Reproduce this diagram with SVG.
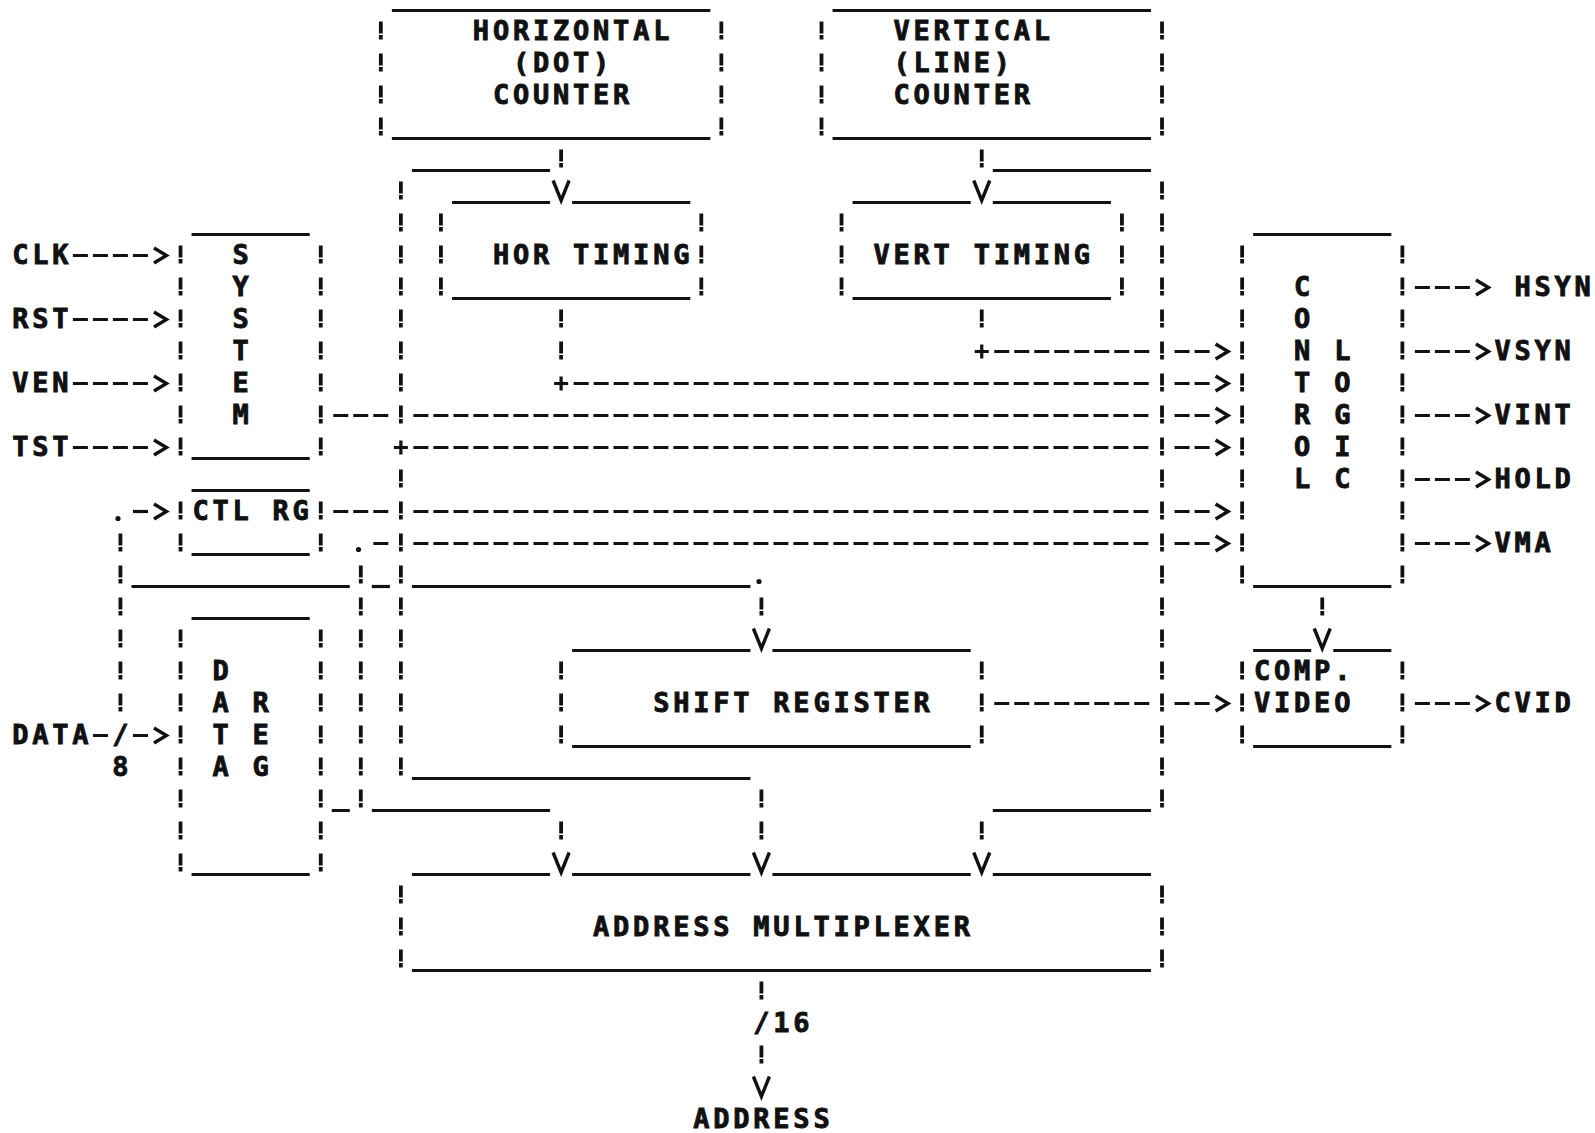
<svg xmlns="http://www.w3.org/2000/svg" width="1595" height="1133" viewBox="0 0 1595 1133">
<style>
.t{font-family:"DejaVu Sans Mono","Liberation Mono",monospace;font-weight:bold;font-size:27px;letter-spacing:3.78px;fill:#111;stroke:#111;stroke-width:0.9px}
.u{stroke:#111;stroke-width:3.2;fill:none}
.v{stroke:#111;stroke-width:3.8;fill:none;stroke-dasharray:12 1.5 4.5 14}
.h{stroke:#111;stroke-width:3.2;fill:none;stroke-dasharray:15 5}
.p{stroke:#111;stroke-width:3.2;fill:none}
.ah{stroke:#111;stroke-width:3.4;fill:none;stroke-linejoin:miter;stroke-dasharray:none}
.dot{fill:#111}
</style>
<defs>
<marker id="gt" markerUnits="userSpaceOnUse" orient="auto" refX="0" refY="0" markerWidth="40" markerHeight="40" overflow="visible"><path class="ah" d="M6,-7.5 L18.5,0 L6,7.5"/></marker>
<marker id="vv" markerUnits="userSpaceOnUse" orient="auto" refX="0" refY="0" markerWidth="40" markerHeight="40" overflow="visible"><path class="ah" d="M13,-8 L33,0 L13,8"/></marker>
</defs>
<rect width="1595" height="1133" fill="#fff"/>

<g id="nodes">
<g id="hcounter">
<path class="u" d="M391.87,10.5H710.32M391.87,138.5H710.32"/>
<path class="v" d="M380.84,21.5V135.5M721.35,21.5V135.5"/>
<text class="t"><tspan x="472.86" y="40.3">HORIZONTAL</tspan><tspan x="512.92" y="72.3">(DOT)</tspan><tspan x="492.89" y="104.3">COUNTER</tspan></text>
</g>
<g id="vcounter">
<path class="u" d="M832.53,10.5H1150.98M832.53,138.5H1150.98"/>
<path class="v" d="M821.5,21.5V135.5M1162.01,21.5V135.5"/>
<text class="t"><tspan x="893.49" y="40.3">VERTICAL</tspan><tspan x="893.49" y="72.3">(LINE)</tspan><tspan x="893.49" y="104.3">COUNTER</tspan></text>
</g>
<g id="htiming">
<path class="u" d="M451.96,202.5H550.08M572.14,202.5H690.29M451.96,298.5H690.29"/>
<path class="v" d="M440.93,213.5V295.5M701.32,213.5V295.5"/>
<text class="t" x="492.89" y="264.3">HOR TIMING</text>
</g>
<g id="vtiming">
<path class="u" d="M852.56,202.5H970.71M992.77,202.5H1110.92M852.56,298.5H1110.92"/>
<path class="v" d="M841.53,213.5V295.5M1121.95,213.5V295.5"/>
<text class="t" x="873.46" y="264.3">VERT TIMING</text>
</g>
<g id="system">
<path class="u" d="M191.57,234.5H309.72M191.57,458.5H309.72"/>
<path class="v" d="M180.54,245.5V455.5M320.75,245.5V455.5"/>
<text class="t"><tspan x="232.5" y="264.3">S</tspan><tspan x="232.5" y="296.3">Y</tspan><tspan x="232.5" y="328.3">S</tspan><tspan x="232.5" y="360.3">T</tspan><tspan x="232.5" y="392.3">E</tspan><tspan x="232.5" y="424.3">M</tspan></text>
</g>
<g id="ctlrg">
<path class="u" d="M191.57,490.5H309.72M191.57,554.5H309.72"/>
<path class="v" d="M180.54,501.5V551.5M320.75,501.5V551.5"/>
<text class="t" x="192.44" y="520.3">CTL RG</text>
</g>
<g id="datareg">
<path class="u" d="M191.57,618.5H309.72M191.57,874.5H309.72"/>
<path class="v" d="M180.54,629.5V871.5M320.75,629.5V871.5"/>
<text class="t"><tspan x="212.47" y="680.3">D</tspan><tspan x="212.47" y="712.3">A R</tspan><tspan x="212.47" y="744.3">T E</tspan><tspan x="212.47" y="776.3">A G</tspan></text>
</g>
<g id="control">
<path class="u" d="M1253.16,234.5H1391.34M1253.16,586.5H1391.34"/>
<path class="v" d="M1242.13,245.5V583.5M1402.37,245.5V583.5"/>
<text class="t"><tspan x="1294.09" y="296.3">C</tspan><tspan x="1294.09" y="328.3">O</tspan><tspan x="1294.09" y="360.3">N L</tspan><tspan x="1294.09" y="392.3">T O</tspan><tspan x="1294.09" y="424.3">R G</tspan><tspan x="1294.09" y="456.3">O I</tspan><tspan x="1294.09" y="488.3">L C</tspan></text>
</g>
<g id="compvideo">
<path class="u" d="M1253.16,650.5H1311.22M1333.28,650.5H1391.34M1253.16,746.5H1391.34"/>
<path class="v" d="M1242.13,661.5V743.5M1402.37,661.5V743.5"/>
<text class="t"><tspan x="1254.03" y="680.3">COMP.</tspan><tspan x="1254.03" y="712.3">VIDEO</tspan></text>
</g>
<g id="shiftreg">
<path class="u" d="M572.14,650.5H750.38M772.44,650.5H970.71M572.14,746.5H970.71"/>
<path class="v" d="M561.11,661.5V743.5M981.74,661.5V743.5"/>
<text class="t" x="653.13" y="712.3">SHIFT REGISTER</text>
</g>
<g id="addrmux">
<path class="u" d="M411.9,874.5H550.08M572.14,874.5H750.38M772.44,874.5H970.71M992.77,874.5H1150.98M411.9,970.5H1150.98"/>
<path class="v" d="M400.87,885.5V967.5M1162.01,885.5V967.5"/>
<text class="t" x="593.04" y="936.3">ADDRESS MULTIPLEXER</text>
</g>
</g>

<g id="connectors">
<g id="c-clk"><path class="h" marker-end="url(#gt)" d="M72.89,255.5H147.98"/></g>
<g id="c-rst"><path class="h" marker-end="url(#gt)" d="M72.89,319.5H147.98"/></g>
<g id="c-ven"><path class="h" marker-end="url(#gt)" d="M72.89,383.5H147.98"/></g>
<g id="c-tst"><path class="h" marker-end="url(#gt)" d="M72.89,447.5H147.98"/></g>
<g id="c-data">
<path class="h" marker-end="url(#gt)" d="M92.92,735.5h15M132.98,735.5H147.98"/>
<path class="v" d="M120.45,533.5V711.5"/>
<circle class="dot" cx="118" cy="518.5" r="2.6"/>
<path class="h" marker-end="url(#gt)" d="M132.98,511.5H147.98"/>
<path class="u" d="M131.48,586.5H349.78"/>
</g>
<g id="c-bus17">
<circle class="dot" cx="358.5" cy="549.5" r="2.6"/>
<path class="h" marker-end="url(#gt)" d="M373.34,543.5H388.34M413.4,543.5H1149.48M1174.54,543.5H1209.57"/>
<path class="v" d="M360.81,565.5V807.5"/>
<path class="u" d="M371.84,586.5H389.84"/>
</g>
<g id="c-datareg-mux">
<path class="u" d="M331.78,810.5H349.78M371.84,810.5H550.08"/>
<path class="v" marker-end="url(#vv)" d="M561.11,821.5V839.5"/>
</g>
<g id="c-system-ctl"><path class="h" marker-end="url(#gt)" d="M333.28,415.5H388.34M413.4,415.5H1149.48M1174.54,415.5H1209.57"/></g>
<g id="c-ctlrg-ctl"><path class="h" marker-end="url(#gt)" d="M333.28,511.5H388.34M413.4,511.5H1149.48M1174.54,511.5H1209.57"/></g>
<g id="c-hcounter">
<path class="v" marker-end="url(#vv)" d="M561.11,149.5V167.5"/>
<path class="u" d="M411.9,170.5H550.08"/>
<path class="v" d="M400.87,181.5V423.5M400.87,469.5V775.5"/>
<path class="p" d="M393.87,447.5H407.87M400.87,440.5V454.5"/>
<path class="h" marker-end="url(#gt)" d="M413.4,447.5H1149.48M1174.54,447.5H1209.57"/>
<path class="u" d="M411.9,586.5H750.38"/>
<circle class="dot" cx="759" cy="581.5" r="2.6"/>
<path class="v" marker-end="url(#vv)" d="M761.41,597.5V615.5"/>
<path class="u" d="M411.9,778.5H750.38"/>
<path class="v" marker-end="url(#vv)" d="M761.41,789.5V839.5"/>
</g>
<g id="c-vcounter">
<path class="v" marker-end="url(#vv)" d="M981.74,149.5V167.5"/>
<path class="u" d="M992.77,170.5H1150.98M992.77,810.5H1150.98"/>
<path class="v" d="M1162.01,181.5V807.5"/>
<path class="v" marker-end="url(#vv)" d="M981.74,821.5V839.5"/>
</g>
<g id="c-htiming">
<path class="v" d="M561.11,309.5V359.5"/>
<path class="p" d="M554.11,383.5H568.11M561.11,376.5V390.5"/>
<path class="h" marker-end="url(#gt)" d="M573.64,383.5H1149.48M1174.54,383.5H1209.57"/>
</g>
<g id="c-vtiming">
<path class="v" d="M981.74,309.5V327.5"/>
<path class="p" d="M974.74,351.5H988.74M981.74,344.5V358.5"/>
<path class="h" marker-end="url(#gt)" d="M994.27,351.5H1149.48M1174.54,351.5H1209.57"/>
</g>
<g id="c-ctl-video"><path class="v" marker-end="url(#vv)" d="M1322.25,597.5V615.5"/></g>
<g id="c-shift-video"><path class="h" marker-end="url(#gt)" d="M994.27,703.5H1149.48M1174.54,703.5H1209.57"/></g>
<g id="c-hsyn"><path class="h" marker-end="url(#gt)" d="M1414.9,287.5H1469.96"/></g>
<g id="c-vsyn"><path class="h" marker-end="url(#gt)" d="M1414.9,351.5H1469.96"/></g>
<g id="c-vint"><path class="h" marker-end="url(#gt)" d="M1414.9,415.5H1469.96"/></g>
<g id="c-hold"><path class="h" marker-end="url(#gt)" d="M1414.9,479.5H1469.96"/></g>
<g id="c-vma"><path class="h" marker-end="url(#gt)" d="M1414.9,543.5H1469.96"/></g>
<g id="c-cvid"><path class="h" marker-end="url(#gt)" d="M1414.9,703.5H1469.96"/></g>
<g id="c-address">
<path class="v" d="M761.41,981.5V999.5"/>
<path class="v" marker-end="url(#vv)" d="M761.41,1045.5V1063.5"/>
</g>
</g>

<g id="labels">
<text class="t" x="12.17" y="264.3">CLK</text>
<text class="t" x="12.17" y="328.3">RST</text>
<text class="t" x="12.17" y="392.3">VEN</text>
<text class="t" x="12.17" y="456.3">TST</text>
<text class="t" x="12.17" y="744.3">DATA</text>
<text class="t" x="112.32" y="744.3">/</text>
<text class="t" x="112.32" y="776.3">8</text>
<text class="t" x="1514.42" y="296.3">HSYN</text>
<text class="t" x="1494.39" y="360.3">VSYN</text>
<text class="t" x="1494.39" y="424.3">VINT</text>
<text class="t" x="1494.39" y="488.3">HOLD</text>
<text class="t" x="1494.39" y="552.3">VMA</text>
<text class="t" x="1494.39" y="712.3">CVID</text>
<text class="t" x="753.28" y="1032.3">/16</text>
<text class="t" x="693.19" y="1128.3">ADDRESS</text>
</g>
</svg>
